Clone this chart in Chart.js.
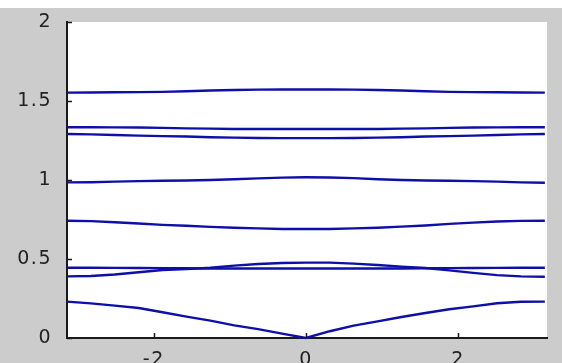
<!DOCTYPE html>
<html>
<head>
<meta charset="utf-8">
<script src="https://cdn.jsdelivr.net/npm/chart.js@4/dist/chart.umd.min.js"></script>
<style>
html,body{margin:0;padding:0;background:#cccccc;}
#wrap{width:562px;height:363px;}
</style>
</head>
<body>
<div id="wrap"><canvas id="c" width="562" height="363"></canvas></div>
<script>
// wave-vector samples (x axis)
const kValues = [-3.1416,-2.8274,-2.5133,-2.1991,-1.885,-1.5708,-1.2566,-0.9425,-0.6283,-0.3142,0,0.3142,0.6283,0.9425,1.2566,1.5708,1.885,2.1991,2.5133,2.8274,3.1416];
// bands
const band1 = [0.23,0.219,0.205,0.19,0.163,0.135,0.11,0.08,0.056,0.028,0,0.043,0.078,0.105,0.133,0.158,0.182,0.2,0.22,0.229,0.23];
const band2 = [0.445,0.445,0.444,0.443,0.442,0.441,0.44,0.44,0.44,0.44,0.44,0.44,0.44,0.44,0.44,0.441,0.442,0.443,0.444,0.445,0.445];
const band3 = [0.39,0.392,0.402,0.416,0.43,0.436,0.445,0.458,0.468,0.475,0.477,0.477,0.471,0.462,0.452,0.443,0.428,0.412,0.398,0.39,0.388];
const band4 = [0.742,0.74,0.733,0.725,0.716,0.71,0.703,0.698,0.694,0.69,0.69,0.69,0.694,0.698,0.705,0.712,0.722,0.73,0.737,0.741,0.742];
const band5 = [0.985,0.986,0.99,0.993,0.995,0.997,1.0,1.005,1.01,1.015,1.017,1.016,1.012,1.005,1.0,0.997,0.995,0.993,0.99,0.985,0.983];
const band6 = [1.291,1.289,1.285,1.281,1.278,1.275,1.271,1.268,1.266,1.265,1.265,1.265,1.266,1.268,1.271,1.275,1.278,1.281,1.285,1.289,1.291];
const band7 = [1.334,1.334,1.333,1.332,1.33,1.327,1.325,1.323,1.323,1.323,1.323,1.323,1.323,1.323,1.325,1.327,1.33,1.332,1.333,1.334,1.334];
const band8 = [1.553,1.554,1.555,1.556,1.558,1.562,1.566,1.57,1.572,1.573,1.573,1.573,1.572,1.57,1.566,1.562,1.558,1.556,1.555,1.554,1.553];
const bands = [band1, band2, band3, band4, band5, band6, band7, band8];
// tick labels
const xTickValues = [-2, 0, 2];
const yTickValues = [0, 0.5, 1, 1.5, 2];

const LINE = '#0e0ea8';
const datasets = bands.map((b, i) => ({
  label: 'band ' + (i + 1),
  data: b.map((v, j) => ({x: kValues[j], y: v})),
  borderColor: LINE,
  borderWidth: 2.4,
  pointRadius: 0,
  tension: 0,
  fill: false,
  clip: false
}));

const bgPlugin = {
  id: 'bg',
  beforeDraw(chart) {
    const ctx = chart.ctx, a = chart.chartArea;
    ctx.save();
    ctx.fillStyle = '#cccccc';
    ctx.fillRect(0, 0, chart.width, chart.height);
    ctx.fillStyle = '#ffffff';
    ctx.fillRect(0, 0, chart.width, 8);
    ctx.fillRect(a.left, a.top, a.right - a.left, a.bottom - a.top);
    ctx.restore();
    try { ctx.letterSpacing = '1.5px'; } catch (e) {}
  },
  afterDatasetsDraw(chart) {
    const ctx = chart.ctx, a = chart.chartArea;
    const xs = chart.scales.x, ys = chart.scales.y;
    ctx.save();
    ctx.strokeStyle = '#1a1a1a';
    ctx.lineWidth = 1.5;
    ctx.beginPath();
    xTickValues.forEach(v => {
      const px = Math.round(xs.getPixelForValue(v)) + 0.5;
      ctx.moveTo(px, a.bottom); ctx.lineTo(px, a.bottom - 5);
    });
    yTickValues.forEach(v => {
      const py = Math.round(ys.getPixelForValue(v)) + 0.5;
      ctx.moveTo(a.left, py); ctx.lineTo(a.left + 5, py);
    });
    ctx.stroke();
    ctx.restore();
  },
  afterDraw(chart) {
    try { chart.ctx.letterSpacing = '0px'; } catch (e) {}
  }
};

new Chart(document.getElementById('c'), {
  type: 'line',
  data: {datasets},
  options: {
    responsive: false,
    animation: false,
    events: [],
    layout: {padding: {top: 22, right: 15, left: 0, bottom: 0}},
    plugins: {legend: {display: false}, tooltip: {enabled: false}, title: {display: false}},
    scales: {
      x: {
        type: 'linear',
        min: -3.1416,
        max: 3.17,
        afterBuildTicks: s => { s.ticks = xTickValues.map(v => ({value: v})); },
        afterFit: s => { s.height = 25; },
        grid: {display: false},
        border: {display: true, color: '#1a1a1a', width: 2},
        ticks: {
          color: '#222222',
          font: {family: 'DejaVu Sans', size: 19},
          padding: 3,
          maxRotation: 0,
          autoSkip: false,
          callback: v => String(v)
        }
      },
      y: {
        type: 'linear',
        min: 0,
        max: 2,
        afterBuildTicks: s => { s.ticks = yTickValues.map(v => ({value: v})); },
        afterFit: s => { s.width = 67; },
        grid: {display: false},
        border: {display: true, color: '#1a1a1a', width: 2},
        ticks: {
          color: '#222222',
          font: {family: 'DejaVu Sans', size: 19},
          padding: 7,
          autoSkip: false,
          callback: v => String(v)
        }
      }
    }
  },
  plugins: [bgPlugin]
});
</script>
</body>
</html>
